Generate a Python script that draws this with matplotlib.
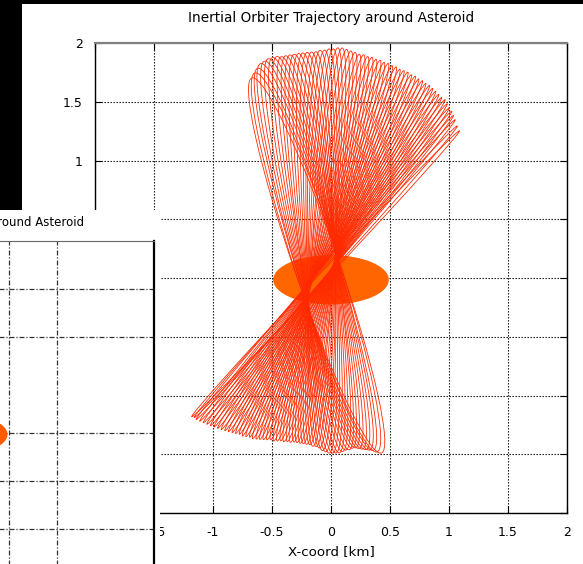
import numpy as np
import matplotlib.pyplot as plt
from matplotlib.patches import Ellipse, Rectangle

# orbit loops, one per revolution: far tip above (angle deg, radius km),
# far tip below, and the half-width of the loop
top_ang = [111.5, 110.3, 109.2, 108.1, 107.0, 105.9, 104.8, 103.7, 102.6, 101.5,
           100.4, 99.3, 98.2, 97.1, 96.0, 94.9, 93.8, 92.7, 91.6, 90.5,
           89.4, 88.3, 87.2, 86.1, 85.0, 83.9, 82.8, 81.7, 80.6, 79.5,
           78.4, 77.3, 76.2, 75.1, 74.0, 72.9, 71.8, 70.7, 69.6, 68.5,
           67.4, 66.3, 65.2, 64.1, 63.0, 61.9, 60.8, 59.7, 58.6, 57.5,
           56.4, 55.3, 54.2, 53.1, 52.0, 50.4, 49.0]
top_r = [1.83, 1.86, 1.89, 1.92, 1.93, 1.94, 1.94, 1.94, 1.93, 1.93,
         1.93, 1.93, 1.93, 1.93, 1.93, 1.93, 1.93, 1.94, 1.94, 1.95,
         1.95, 1.96, 1.96, 1.95, 1.94, 1.93, 1.92, 1.92, 1.91, 1.91,
         1.90, 1.90, 1.89, 1.89, 1.88, 1.88, 1.87, 1.87, 1.87, 1.86,
         1.86, 1.85, 1.85, 1.84, 1.84, 1.83, 1.82, 1.81, 1.80, 1.80,
         1.78, 1.76, 1.75, 1.73, 1.71, 1.68, 1.66]
bot_ang = [-74.0, -75.2, -76.3, -77.4, -78.5, -79.6, -80.7, -81.8, -82.9, -84.0,
           -85.1, -86.2, -87.3, -88.4, -89.5, -90.6, -91.7, -92.8, -93.9, -95.0,
           -96.1, -97.2, -98.3, -99.4, -100.5, -101.6, -102.7, -103.8, -104.9, -106.0,
           -107.1, -108.2, -109.3, -110.4, -111.5, -112.6, -113.7, -114.8, -115.9, -117.0,
           -118.1, -119.2, -120.3, -121.4, -122.5, -123.6, -124.7, -125.8, -126.9, -128.0,
           -129.1, -130.2, -131.3, -132.4, -133.5, -134.3, -135.0]
bot_r = [1.55, 1.53, 1.51, 1.50, 1.49, 1.48, 1.47, 1.46, 1.46, 1.47,
         1.47, 1.48, 1.49, 1.49, 1.49, 1.49, 1.48, 1.47, 1.45, 1.44,
         1.44, 1.43, 1.43, 1.43, 1.43, 1.43, 1.43, 1.44, 1.44, 1.45,
         1.45, 1.46, 1.47, 1.47, 1.48, 1.49, 1.50, 1.51, 1.52, 1.52,
         1.53, 1.54, 1.54, 1.55, 1.56, 1.57, 1.58, 1.59, 1.60, 1.61,
         1.62, 1.63, 1.64, 1.65, 1.66, 1.66, 1.67]
half_w = [0.19, 0.19, 0.18, 0.18, 0.175, 0.17, 0.165, 0.16, 0.155, 0.15,
          0.15, 0.145, 0.14, 0.135, 0.13, 0.125, 0.12, 0.12, 0.115, 0.11,
          0.105, 0.10, 0.10, 0.095, 0.09, 0.09, 0.085, 0.085, 0.08, 0.08,
          0.075, 0.075, 0.07, 0.07, 0.065, 0.065, 0.06, 0.06, 0.06, 0.055,
          0.055, 0.05, 0.05, 0.05, 0.045, 0.045, 0.045, 0.045, 0.04, 0.04,
          0.04, 0.04, 0.04, 0.035, 0.035, 0.035, 0.035]

# asteroid body
ast_center = (0.0, -0.015)
ast_axes = (0.49, 0.21)

ticks = [-2, -1.5, -1, -0.5, 0, 0.5, 1, 1.5, 2]
xtick_labels = ["", "-1.5", "-1", "-0.5", "0", "0.5", "1", "1.5", "2"]
ytick_labels = ["", "", "", "", "", "", "1", "1.5", "2"]

# second (older) window: only these grid lines are drawn
small_xticks = [0.5, 1]
small_yticks = [1.5, 1, 0, -0.5, -1]

W, H = 583, 564
fig = plt.figure(figsize=(W / 100, H / 100), dpi=100)
plt.rcParams['font.family'] = ['DejaVu Sans']


def px_box(x0, x1, y0, y1):
    # pixel box (top-left origin) -> figure fraction rect
    return [x0 / W, (H - y1) / H, (x1 - x0) / W, (y1 - y0) / H]


ax = fig.add_axes(px_box(95, 567, 43, 513))
ax.set_xlim(-2, 2)
ax.set_ylim(-2, 2)

ax.add_patch(Ellipse(ast_center, 2 * ast_axes[0], 2 * ast_axes[1],
                     facecolor="#ff6600", edgecolor="none", zorder=2))

ta = np.radians(top_ang)
ba = np.radians(bot_ang)
tx, ty = np.array(top_r) * np.cos(ta), np.array(top_r) * np.sin(ta)
bx, by = np.array(bot_r) * np.cos(ba), np.array(bot_r) * np.sin(ba)
for i in range(len(top_ang)):
    cx, cy = (tx[i] + bx[i]) / 2, (ty[i] + by[i]) / 2
    length = np.hypot(tx[i] - bx[i], ty[i] - by[i])
    ang = np.degrees(np.arctan2(ty[i] - by[i], tx[i] - bx[i]))
    ax.add_patch(Ellipse((cx, cy), length, 2 * half_w[i], angle=ang, fill=False,
                         edgecolor="#ff2a00", linewidth=0.6, zorder=3))

ax.set_xticks(ticks)
ax.set_xticklabels(xtick_labels)
ax.set_yticks(ticks)
ax.set_yticklabels(ytick_labels)
ax.tick_params(direction="in", length=5, width=0.8, top=True, right=True,
               labelsize=9, pad=9)
ax.grid(True, color="black", linestyle=(0, (1.2, 1.5)), linewidth=0.8)
ax.set_axisbelow(True)
for s in ["left", "right", "bottom"]:
    ax.spines[s].set_color("black")
    ax.spines[s].set_linewidth(1.0)
ax.spines["top"].set_color("#808080")
ax.spines["top"].set_linewidth(1.6)

ax.set_title("Inertial Orbiter Trajectory around Asteroid", fontsize=9.8, pad=15)
ax.set_xlabel("X-coord [km]", fontsize=9.6, labelpad=5)

# window lying on top at the lower left
fig.add_artist(Rectangle((0, 0), 160 / W, (H - 210) / H, transform=fig.transFigure,
                         facecolor="white", edgecolor="none", zorder=1))

ax2 = fig.add_axes(px_box(-234, 154, 241, 625))
ax2.set_zorder(2)
ax2.set_xlim(-2, 2)
ax2.set_ylim(-2, 2)
ax2.add_patch(Ellipse(ast_center, 2 * ast_axes[0], 2 * ast_axes[1],
                      facecolor="#ff5a00", edgecolor="none", zorder=2))
ax2.set_xticks(small_xticks)
ax2.set_yticks(small_yticks)
ax2.tick_params(length=0, labelbottom=False, labelleft=False)
ax2.grid(True, color="#333333", linestyle=(0, (4, 1.5, 1, 1.5)), linewidth=0.9)
ax2.set_axisbelow(True)
ax2.spines["right"].set_linewidth(1.6)
ax2.spines["top"].set_color("#666666")
ax2.set_title("Inertial Orbiter Trajectory around Asteroid", fontsize=8.5, pad=11)

# black screen border
fig.add_artist(Rectangle((0, (H - 210) / H), 22 / W, 210 / H, transform=fig.transFigure,
                         facecolor="black", edgecolor="none", zorder=3))
fig.add_artist(Rectangle((0, (H - 4) / H), 1, 4 / H, transform=fig.transFigure,
                         facecolor="black", edgecolor="none", zorder=3))

fig.savefig("out.png", dpi=100)
